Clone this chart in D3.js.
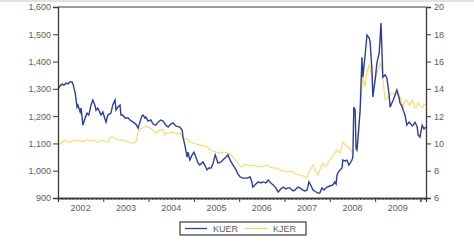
<!DOCTYPE html>
<html><head><meta charset="utf-8">
<script src="https://cdn.jsdelivr.net/npm/d3@7"></script>
<style>html,body{margin:0;padding:0;background:#fff;}svg{display:block;}</style>
</head><body>
<svg id="c" width="474" height="243"></svg>
<script>
// Dates as decimal years
const kuerDates = [2002.00,2002.04,2002.09,2002.13,2002.18,2002.22,2002.26,2002.31,2002.33,2002.38,2002.40,2002.42,2002.44,2002.49,2002.51,2002.55,2002.60,2002.64,2002.68,2002.73,2002.77,2002.82,2002.84,2002.88,2002.95,2002.99,
2003.06,2003.10,2003.17,2003.21,2003.26,2003.28,2003.32,2003.37,2003.39,2003.43,2003.48,2003.55,2003.59,2003.66,2003.72,2003.77,2003.81,2003.85,2003.88,2003.92,2003.94,2003.99,
2004.05,2004.10,2004.16,2004.21,2004.27,2004.32,2004.38,2004.43,2004.49,2004.54,2004.60,2004.69,2004.74,2004.76,2004.80,2004.85,2004.87,2004.91,2004.96,
2005.00,2005.05,2005.09,2005.13,2005.20,2005.25,2005.29,2005.33,2005.38,2005.42,2005.47,2005.51,2005.53,2005.60,2005.64,2005.71,2005.75,2005.80,2005.86,2005.93,2005.97,
2006.02,2006.08,2006.17,2006.24,2006.28,2006.30,2006.37,2006.42,2006.48,2006.53,2006.59,2006.64,2006.70,2006.75,2006.81,2006.86,2006.92,2006.97,
2007.03,2007.08,2007.12,2007.19,2007.23,2007.30,2007.34,2007.41,2007.45,2007.50,2007.54,2007.59,2007.63,2007.70,2007.74,2007.78,2007.83,2007.87,2007.94,
2008.00,2008.07,2008.11,2008.14,2008.16,2008.18,2008.23,2008.27,2008.29,2008.34,2008.38,2008.42,2008.45,2008.49,2008.51,2008.53,2008.56,2008.58,2008.60,2008.62,2008.67,2008.71,2008.73,2008.78,2008.82,2008.87,2008.89,2008.93,2008.95,
2009.00,2009.04,2009.09,2009.13,2009.15,2009.17,2009.22,2009.26,2009.31,2009.33,2009.37,2009.40,2009.44,2009.48,2009.53,2009.55,2009.59,2009.62,2009.66,2009.70,2009.75,2009.77,2009.82,2009.84,2009.88,2009.93,2009.95,2009.99,
2010.04,2010.08,2010.12];
const kuerValues = [1299,1310,1318,1314,1321,1318,1325,1325,1318,1285,1259,1233,1241,1215,1230,1167,1193,1211,1204,1241,1259,1237,1222,1230,1204,1215,
1178,1204,1211,1241,1259,1222,1233,1241,1204,1204,1193,1193,1186,1178,1171,1156,1178,1200,1204,1193,1197,1182,
1186,1171,1167,1178,1186,1182,1167,1160,1171,1175,1164,1160,1149,1123,1094,1050,1068,1039,1058,
1068,1047,1028,1021,1032,1017,1003,1010,1010,1025,1058,1039,1028,1032,1039,1050,1058,1039,1021,1003,988,
977,973,973,977,959,940,951,959,955,959,955,966,955,948,937,922,933,940,
933,937,937,926,929,940,937,929,926,929,959,944,929,922,918,918,937,929,940,
944,948,959,951,984,992,1003,1010,1039,1036,1039,1021,1028,1039,1050,1233,1222,1083,1076,1112,1222,1416,1343,1424,1497,1486,1471,1369,1270,
1332,1395,1431,1541,1442,1343,1351,1340,1277,1233,1248,1259,1277,1296,1267,1248,1237,1222,1204,1167,1178,1175,1164,1167,1178,1160,1131,1123,
1167,1153,1160];

const kjerDates = [2002.00,2002.07,2002.11,2002.15,2002.22,2002.29,2002.33,2002.40,2002.44,2002.51,2002.55,2002.62,2002.66,2002.73,2002.77,2002.84,2002.88,2002.95,2002.99,
2003.06,2003.10,2003.15,2003.17,2003.21,2003.26,2003.32,2003.39,2003.43,2003.50,2003.55,2003.61,2003.66,2003.72,2003.77,2003.81,2003.88,2003.92,2003.99,
2004.03,2004.10,2004.14,2004.21,2004.25,2004.32,2004.36,2004.41,2004.47,2004.54,2004.60,2004.69,2004.76,2004.83,2004.87,2004.91,2004.98,
2005.05,2005.13,2005.20,2005.27,2005.36,2005.42,2005.49,2005.58,2005.66,2005.75,2005.84,2005.91,2005.95,
2006.02,2006.06,2006.13,2006.17,2006.24,2006.30,2006.37,2006.46,2006.53,2006.61,2006.68,2006.75,2006.81,2006.90,2006.97,
2007.06,2007.12,2007.19,2007.25,2007.34,2007.41,2007.45,2007.50,2007.56,2007.63,2007.67,2007.74,2007.78,2007.85,2007.89,2007.94,
2008.00,2008.05,2008.11,2008.16,2008.20,2008.23,2008.27,2008.29,2008.34,2008.38,2008.45,2008.49,2008.53,2008.56,2008.60,2008.62,2008.67,2008.69,2008.73,2008.78,2008.82,2008.87,2008.91,2008.95,
2009.00,2009.04,2009.11,2009.15,2009.17,2009.22,2009.26,2009.28,2009.33,2009.40,2009.44,2009.48,2009.55,2009.59,2009.62,2009.66,2009.70,2009.75,2009.77,2009.82,2009.84,2009.88,2009.90,2009.95,2009.99,
2010.04,2010.08,2010.12];
const kjerValues = [9.89,10.03,10.18,10.25,10.11,10.11,10.25,10.18,10.25,10.18,10.11,10.25,10.25,10.18,10.25,10.11,10.11,10.18,10.25,
10.11,10.11,10.40,10.47,10.47,10.40,10.25,10.25,10.25,10.18,10.11,10.03,10.03,10.11,10.84,11.06,11.13,11.28,11.21,
11.13,10.99,10.77,10.84,10.99,10.99,10.62,10.77,10.77,10.84,10.69,10.77,10.40,10.33,10.25,10.11,10.03,
9.96,9.89,9.81,9.81,9.52,9.45,9.37,9.30,9.37,9.30,9.08,8.79,8.64,
8.35,8.27,8.49,8.42,8.35,8.42,8.35,8.27,8.35,8.42,8.27,8.20,8.20,8.05,7.98,
7.91,7.98,7.91,7.76,7.69,7.61,7.54,7.54,8.05,8.42,8.05,7.69,8.05,8.57,8.35,8.42,
8.79,9.01,9.30,9.52,9.37,9.30,9.89,10.11,9.89,9.74,9.67,9.30,9.52,9.52,9.89,10.47,12.45,13.18,14.87,14.14,15.24,15.75,15.24,14.14,
14.65,15.16,15.90,15.53,14.87,13.18,13.33,13.40,13.55,13.70,13.48,13.92,13.40,13.04,12.67,13.18,13.18,12.82,12.82,13.18,13.04,12.60,12.60,12.96,12.75,
12.60,12.89,12.82];

const years = [2002,2003,2004,2005,2006,2007,2008,2009];
const leftTicks = [900,1000,1100,1200,1300,1400,1500,1600];
const rightTicks = [6,8,10,12,14,16,18,20];
const seriesNames = ["KUER","KJER"];

function toDate(d){
  const y = Math.floor(d), f = d - y;
  const a = new Date(y,0,1), b = new Date(y+1,0,1);
  return new Date(a.getTime() + f*(b-a));
}

const L = 58, R = 426, T = 7, B = 198;
const svg = d3.select("#c");
svg.append("rect").attr("x",0).attr("y",0).attr("width",474).attr("height",2).attr("fill","#e2e2e2");

const x = d3.scaleTime().domain([toDate(2002.0), toDate(2010.124)]).range([L,R]);
const yL = d3.scaleLinear().domain([900,1600]).range([B,T]);
const yR = d3.scaleLinear().domain([6,20]).range([B,T]);

const axisColor = "#3a3a3a", textColor = "#5e5e5e";
const font = "Liberation Sans, Arial, sans-serif";

// lines
const kjer = kjerDates.map((d,i)=>[toDate(d), kjerValues[i]]);
const kuer = kuerDates.map((d,i)=>[toDate(d), kuerValues[i]]);
svg.append("path").datum(kjer).attr("fill","none").attr("stroke","#f2da6e").attr("stroke-width",1.1)
  .attr("d", d3.line().x(d=>x(d[0])).y(d=>yR(d[1])));
svg.append("path").datum(kuer).attr("fill","none").attr("stroke","#2d3f98").attr("stroke-width",1.4)
  .attr("d", d3.line().x(d=>x(d[0])).y(d=>yL(d[1])));

// frame top
svg.append("line").attr("x1",L).attr("x2",R).attr("y1",T).attr("y2",T).attr("stroke",axisColor).attr("stroke-width",1.2);

// left axis
const gl = svg.append("g").attr("transform",`translate(${L},0)`)
  .call(d3.axisLeft(yL).tickValues(leftTicks).tickSize(5).tickPadding(2).tickFormat(d3.format(",")));
// right axis
const gr = svg.append("g").attr("transform",`translate(${R},0)`)
  .call(d3.axisRight(yR).tickValues(rightTicks).tickSize(5).tickPadding(3));
// bottom minor ticks (monthly)
const months = d3.timeMonth.range(toDate(2002.0), toDate(2010.124)).filter(d=>d.getMonth()!==0);
const gm = svg.append("g").attr("transform",`translate(0,${B})`)
  .call(d3.axisBottom(x).tickValues(months).tickSize(2).tickFormat(""));
const majors = d3.timeYear.range(toDate(2002.0), toDate(2010.124)).concat([new Date(2010,0,1)]);
const gb = svg.append("g").attr("transform",`translate(0,${B})`)
  .call(d3.axisBottom(x).tickValues(majors).tickSize(4).tickFormat(""));

[gl,gr,gm,gb].forEach(g=>{
  g.selectAll(".domain").attr("stroke",axisColor).attr("stroke-width",1.3);
  g.selectAll(".tick line").attr("stroke",axisColor).attr("stroke-width",1);
  g.selectAll("text").attr("fill",textColor).attr("font-size",9).attr("font-family",font);
});
gm.selectAll(".tick line").attr("stroke-width",0.8);

// year labels at mid-year
svg.append("g").selectAll("text").data(years).join("text")
  .attr("x", d=>x(toDate(d+0.5))).attr("y", 211)
  .attr("text-anchor","middle").attr("font-size",9).attr("font-family",font).attr("fill",textColor)
  .text(d=>d);

// legend
const lg = svg.append("g");
lg.append("rect").attr("x",180).attr("y",222).attr("width",126).attr("height",13)
  .attr("fill","#fff").attr("stroke",axisColor).attr("stroke-width",1.2);
const legendColors = ["#2d3f98","#f2da6e"];
const legendX = [185,245];
seriesNames.forEach((n,i)=>{
  lg.append("line").attr("x1",legendX[i]).attr("x2",legendX[i]+22).attr("y1",228.5).attr("y2",228.5)
    .attr("stroke",legendColors[i]).attr("stroke-width",1.3);
  lg.append("text").attr("x",legendX[i]+28).attr("y",232).attr("font-size",9).attr("font-family",font)
    .attr("fill",textColor).text(n);
});
</script>
</body></html>
